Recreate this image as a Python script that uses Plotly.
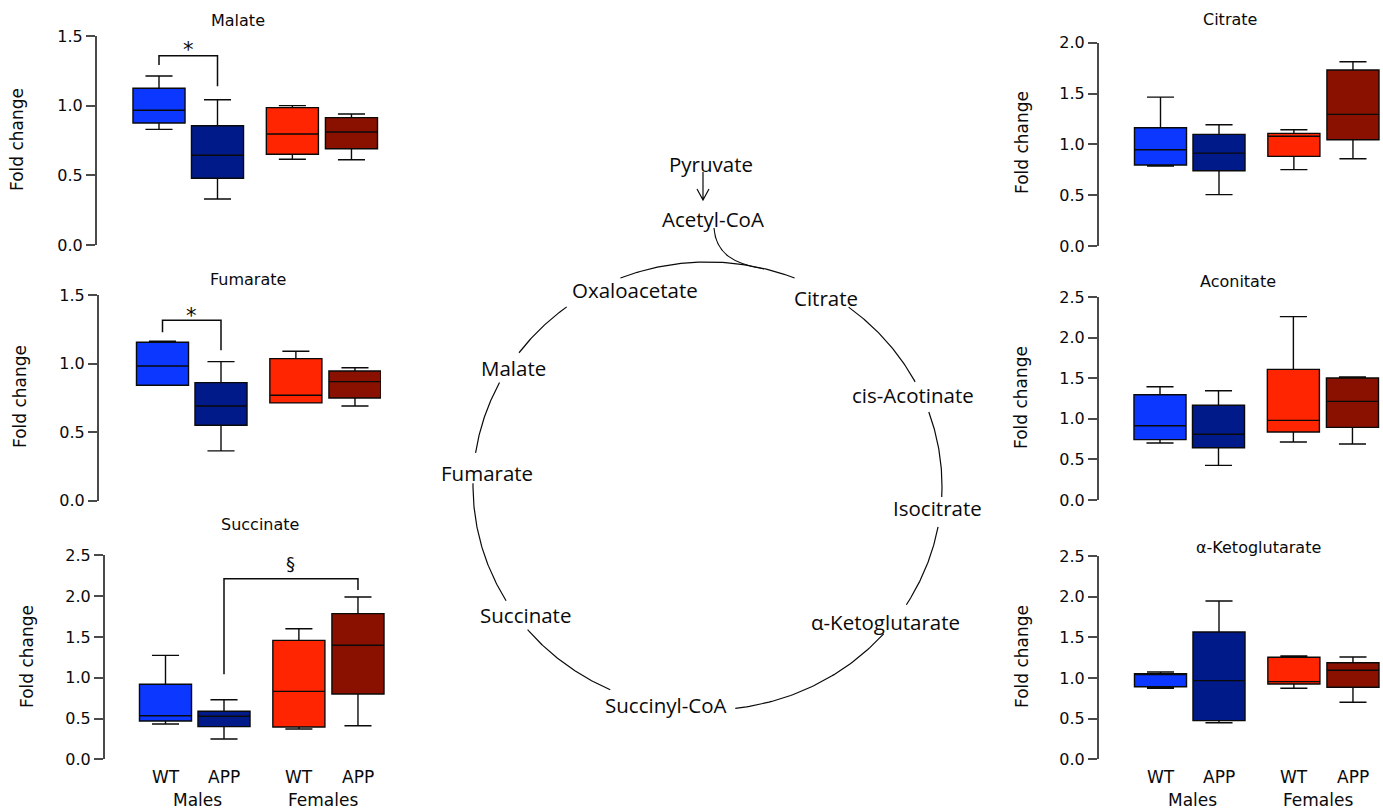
import math
import plotly.graph_objects as go

W, H = 1383, 812

# ---- groups -------------------------------------------------------------
groups = ["WT", "APP", "WT", "APP"]
sex_labels = ["Males", "Females"]
group_pos = [0.0, 1.0, 2.28, 3.29]
sex_pos = [0.55, 2.69]
box_colors = ["#0B37FF", "#011A8A", "#FF2500", "#8A1100"]

# ---- box statistics (fold change), order: WT M, APP M, WT F, APP F -------
malate_lo = [0.83, 0.33, 0.615, 0.612]
malate_q1 = [0.876, 0.479, 0.651, 0.691]
malate_med = [0.967, 0.644, 0.797, 0.811]
malate_q3 = [1.125, 0.856, 0.986, 0.914]
malate_hi = [1.213, 1.043, 1.0, 0.94]

fumarate_lo = [0.842, 0.363, 0.713, 0.691]
fumarate_q1 = [0.842, 0.55, 0.713, 0.749]
fumarate_med = [0.982, 0.691, 0.769, 0.868]
fumarate_q3 = [1.155, 0.861, 1.036, 0.946]
fumarate_hi = [1.163, 1.014, 1.09, 0.97]

succinate_lo = [0.433, 0.249, 0.371, 0.412]
succinate_q1 = [0.469, 0.40, 0.396, 0.80]
succinate_med = [0.534, 0.527, 0.833, 1.397]
succinate_q3 = [0.919, 0.588, 1.458, 1.785]
succinate_hi = [1.274, 0.73, 1.60, 1.989]

citrate_lo = [0.787, 0.505, 0.751, 0.859]
citrate_q1 = [0.797, 0.741, 0.882, 1.045]
citrate_med = [0.947, 0.914, 1.079, 1.295]
citrate_q3 = [1.163, 1.098, 1.108, 1.731]
citrate_hi = [1.465, 1.193, 1.144, 1.813]

aconitate_lo = [0.702, 0.427, 0.714, 0.69]
aconitate_q1 = [0.743, 0.644, 0.837, 0.895]
aconitate_med = [0.915, 0.809, 0.981, 1.215]
aconitate_q3 = [1.297, 1.166, 1.609, 1.502]
aconitate_hi = [1.395, 1.346, 2.258, 1.515]

akg_lo = [0.873, 0.45, 0.873, 0.701]
akg_q1 = [0.893, 0.475, 0.926, 0.886]
akg_med = [1.05, 0.967, 0.955, 1.095]
akg_q3 = [1.053, 1.566, 1.255, 1.188]
akg_hi = [1.074, 1.947, 1.271, 1.258]

panel_titles = ["Malate", "Fumarate", "Succinate", "Citrate", "Aconitate", "\u03b1-Ketoglutarate"]
panel_ymax = [1.5, 1.5, 2.5, 2.0, 2.5, 2.5]
panel_stats = [
    (malate_lo, malate_q1, malate_med, malate_q3, malate_hi),
    (fumarate_lo, fumarate_q1, fumarate_med, fumarate_q3, fumarate_hi),
    (succinate_lo, succinate_q1, succinate_med, succinate_q3, succinate_hi),
    (citrate_lo, citrate_q1, citrate_med, citrate_q3, citrate_hi),
    (aconitate_lo, aconitate_q1, aconitate_med, aconitate_q3, aconitate_hi),
    (akg_lo, akg_q1, akg_med, akg_q3, akg_hi),
]

# ---- significance brackets: panel, left group, right group, levels, symbol
sig_panel = [0, 1, 2]
sig_left_group = [0, 0, 1]
sig_right_group = [1, 1, 3]
sig_left_end = [1.292, 1.228, 1.042]
sig_top = [1.359, 1.316, 2.213]
sig_right_end = [1.14, 1.097, 2.075]
sig_symbol = ["*", "*", "\u00a7"]
sig_symbol_y = [1.40, 1.345, 2.40]
sig_symbol_size = [21, 21, 18]

# ---- TCA cycle diagram labels -----------------------------------------
cycle_labels = ["Pyruvate", "Acetyl-CoA", "Oxaloacetate", "Citrate", "cis-Acotinate",
                "Isocitrate", "\u03b1-Ketoglutarate", "Succinyl-CoA", "Succinate",
                "Fumarate", "Malate"]

# ---- page geometry (pixels) -------------------------------------------
UNIT = 58.5          # pixels per group-position unit
PANEL_W = 282
# (axis x, first box centre x, top of y axis, bottom of y axis)
panel_geom = [
    (97, 159, 36, 245),
    (99, 162.5, 295, 500.7),
    (105, 165.5, 555.3, 759.3),
    (1099, 1160.5, 42.7, 246),
    (1099, 1160, 297, 500),
    (1099, 1160.5, 556, 759.3),
]
title_xy = [(238, 20), (248, 279), (260, 524), (1230, 19), (1238, 281), (1258, 547)]
ylabel_xy = [(17, 140), (20, 397), (27, 657), (1022, 143), (1021, 398), (1022, 657)]
cycle_label_xy = [(711, 164), (713, 219), (635, 290), (826, 298), (913, 395), (937, 508),
                  (885, 622), (665, 705), (525, 615), (487, 473), (513, 368)]

CHART_FONT = "DejaVu Sans"
DIAG_FONT = "Open Sans"
INK = "#0a0a0a"
AXIS_GREY = "#4a4a4a"

fig = go.Figure()
layout_axes = {}
annotations = []

for i in range(6):
    n = i + 1
    sfx = "" if n == 1 else str(n)
    xa, ya = "x" + sfx, "y" + sfx
    ax_px, c0_px, top_px, bot_px = panel_geom[i]
    x0 = -(c0_px - ax_px) / UNIT
    x1 = x0 + PANEL_W / UNIT
    ymax = panel_ymax[i]
    layout_axes["xaxis" + sfx] = dict(
        domain=[ax_px / W, min(1.0, (ax_px + PANEL_W) / W)], range=[x0, x1],
        visible=False, anchor=ya, fixedrange=True, automargin=False)
    layout_axes["yaxis" + sfx] = dict(
        domain=[1 - bot_px / H, 1 - top_px / H], range=[0, ymax], anchor=xa,
        showline=True, linecolor=AXIS_GREY, linewidth=2,
        ticks="outside", ticklen=9, tickwidth=2, tickcolor=AXIS_GREY,
        tickvals=[k * 0.5 for k in range(int(round(ymax / 0.5)) + 1)],
        tickformat=".1f", showgrid=False, zeroline=False, automargin=False,
        tickfont=dict(family=CHART_FONT, size=16, color=INK), fixedrange=True)

    lo, q1, med, q3, hi = panel_stats[i]
    for g in range(4):
        fig.add_trace(go.Box(
            x=[group_pos[g]], q1=[q1[g]], median=[med[g]], q3=[q3[g]],
            lowerfence=[lo[g]], upperfence=[hi[g]],
            width=0.89, whiskerwidth=0.52, boxpoints=False,
            fillcolor=box_colors[g], line=dict(color=INK, width=1.4),
            xaxis=xa, yaxis=ya, hoverinfo="skip", showlegend=False))

    # panel title and y-axis label
    tx, ty = title_xy[i]
    annotations.append(dict(x=tx, y=ty, xref="x7", yref="y7", text=panel_titles[i],
                            showarrow=False, font=dict(family=CHART_FONT, size=16, color=INK)))
    lx, ly = ylabel_xy[i]
    annotations.append(dict(x=lx, y=ly, xref="x7", yref="y7", text="Fold change",
                            textangle=-90, showarrow=False,
                            font=dict(family=CHART_FONT, size=17, color=INK)))

    # group labels under the bottom panels
    if i in (2, 5):
        for g in range(4):
            annotations.append(dict(x=group_pos[g], y=777, xref=xa, yref="y7", text=groups[g],
                                    showarrow=False, font=dict(family=CHART_FONT, size=17, color=INK)))
        for s in range(2):
            annotations.append(dict(x=sex_pos[s], y=800, xref=xa, yref="y7", text=sex_labels[s],
                                    showarrow=False, font=dict(family=CHART_FONT, size=17, color=INK)))

# significance brackets
for k in range(len(sig_panel)):
    n = sig_panel[k] + 1
    sfx = "" if n == 1 else str(n)
    xl = group_pos[sig_left_group[k]]
    xr = group_pos[sig_right_group[k]]
    fig.add_trace(go.Scatter(
        x=[xl, xl, xr, xr], y=[sig_left_end[k], sig_top[k], sig_top[k], sig_right_end[k]],
        mode="lines", line=dict(color=INK, width=1.5), xaxis="x" + sfx, yaxis="y" + sfx,
        hoverinfo="skip", showlegend=False, cliponaxis=False))
    annotations.append(dict(x=(xl + xr) / 2, y=sig_symbol_y[k], xref="x" + sfx, yref="y" + sfx,
                            text=sig_symbol[k], showarrow=False,
                            font=dict(family=CHART_FONT, size=sig_symbol_size[k], color=INK)))

# ---- TCA cycle: elliptical arcs broken where the labels sit -------------
CX, CY, RX, RY = 707.5, 486, 234.5, 224
arc_spans = [(111.8, 68.2), (53, 27.7), (19.3, -2.8), (-10.5, -32), (-41.3, -83.2),
             (-114.5, -140.1), (-149.2, -180.7), (171.5, 152.5), (143.5, 126.9)]
for a0, a1 in arc_spans:
    steps = 60
    ts = [math.radians(a0 + (a1 - a0) * j / steps) for j in range(steps + 1)]
    fig.add_trace(go.Scatter(
        x=[CX + RX * math.cos(t) for t in ts], y=[CY - RY * math.sin(t) for t in ts],
        mode="lines", line=dict(color=INK, width=1.2), xaxis="x7", yaxis="y7",
        hoverinfo="skip", showlegend=False))

shapes = [
    # acetyl-CoA feeding into the cycle
    dict(type="path", xref="x7", yref="y7", path="M 714,228 C 716,254 734,264 764,269",
         line=dict(color=INK, width=1.2)),
    # pyruvate -> acetyl-CoA arrow
    dict(type="path", xref="x7", yref="y7", path="M 703,172 L 703,200 M 697,189 L 703,200 L 709,189",
         line=dict(color=INK, width=1.2)),
]

for name, (px, py) in zip(cycle_labels, cycle_label_xy):
    annotations.append(dict(x=px, y=py, xref="x7", yref="y7", text=name, showarrow=False,
                            font=dict(family=DIAG_FONT, size=20.5, color=INK)))

layout_axes["xaxis7"] = dict(domain=[0, 1], range=[0, W], visible=False, anchor="y7",
                             fixedrange=True, automargin=False)
layout_axes["yaxis7"] = dict(domain=[0, 1], range=[H, 0], visible=False, anchor="x7",
                             fixedrange=True, automargin=False)

fig.update_layout(
    template="none",
    width=W, height=H, margin=dict(l=0, r=0, t=0, b=0, pad=0, autoexpand=False),
    paper_bgcolor="white", plot_bgcolor="rgba(0,0,0,0)",
    boxmode="overlay", showlegend=False,
    annotations=annotations, shapes=shapes,
    **layout_axes)

fig.write_html("out.html")
